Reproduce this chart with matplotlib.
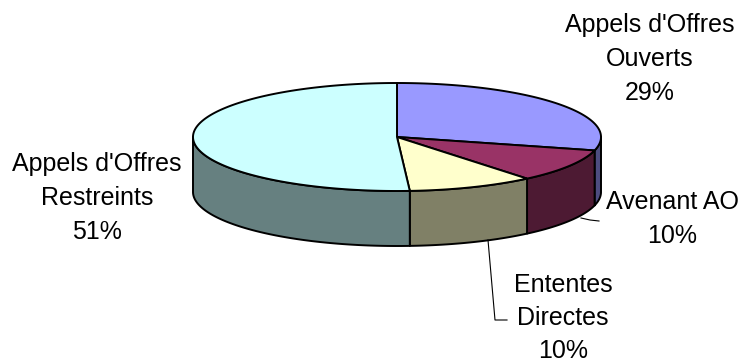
import numpy as np
import matplotlib.pyplot as plt

plt.rcParams['font.family'] = ['Liberation Sans', 'DejaVu Sans']

# data
categories = [["Appels d'Offres", "Ouverts"], ["Avenant AO"],
              ["Ententes", "Directes"], ["Appels d'Offres", "Restreints"]]
values = [29, 10, 10, 51]
top_colors = ['#9999FF', '#993366', '#FFFFCC', '#CCFFFF']
side_colors = ['#4D4D80', '#4D1A33', '#808066', '#668080']

# pie geometry in pixels (y grows downward)
cx, cy = 397, 137
rx, ry = 204, 54
depth = 55

# label anchors (x centre, y of first line) and optional leader lines
label_pos = [(650, 25), (672, 202), (563, 285), (97, 164)]
leaders = [None, [(581, 218), (590, 220), (599, 221)], [(488, 240), (495, 320), (507, 320)], None]
line_step = 34


def pt(t, dy=0.0):
    r = np.radians(t)
    return cx + rx * np.cos(r), cy - ry * np.sin(r) + dy


fig = plt.figure(figsize=(7.42, 3.64), dpi=100, facecolor='white')
ax = fig.add_axes([0, 0, 1, 1])
ax.set_xlim(0, 742)
ax.set_ylim(364, 0)
ax.axis('off')

total = float(sum(values))
fracs = [v / total for v in values]
starts = 90 - 360 * np.concatenate([[0], np.cumsum(fracs)[:-1]])
ends = starts - 360 * np.array(fracs)

# side walls (only the front half is visible)
for s, e, col in zip(starts, ends, side_colors):
    for lo_v, hi_v in [(-180, 0), (-540, -360)]:
        lo, hi = max(e, lo_v), min(s, hi_v)
        if hi <= lo:
            continue
        ts = np.linspace(lo, hi, 120)
        top = [pt(t) for t in ts]
        bot = [pt(t, depth) for t in ts[::-1]]
        xs, ys = zip(*(top + bot))
        ax.fill(xs, ys, facecolor=col, edgecolor='black', linewidth=1.4,
                joinstyle='round', zorder=2)

# top faces
for s, e, col in zip(starts, ends, top_colors):
    ts = np.linspace(s, e, 200)
    arc = [pt(t) for t in ts]
    xs, ys = zip(*([(cx, cy)] + arc))
    ax.fill(xs, ys, facecolor=col, edgecolor='black', linewidth=1.4,
            joinstyle='round', zorder=3)

# labels
for name, v, (lx, ly), ld in zip(categories, values, label_pos, leaders):
    lines = name + ["{}%".format(int(round(100 * v / total)))]
    step = 33 if len(lines) == 3 and ly > 250 else line_step
    for i, txt in enumerate(lines):
        ax.text(lx, ly + i * step, txt, ha='center', va='center',
                fontsize=18, color='black', zorder=5)
    if ld is not None:
        xs, ys = zip(*ld)
        ax.plot(xs, ys, color='black', linewidth=0.8, zorder=4)

fig.savefig('out.png', dpi=100, facecolor='white')
